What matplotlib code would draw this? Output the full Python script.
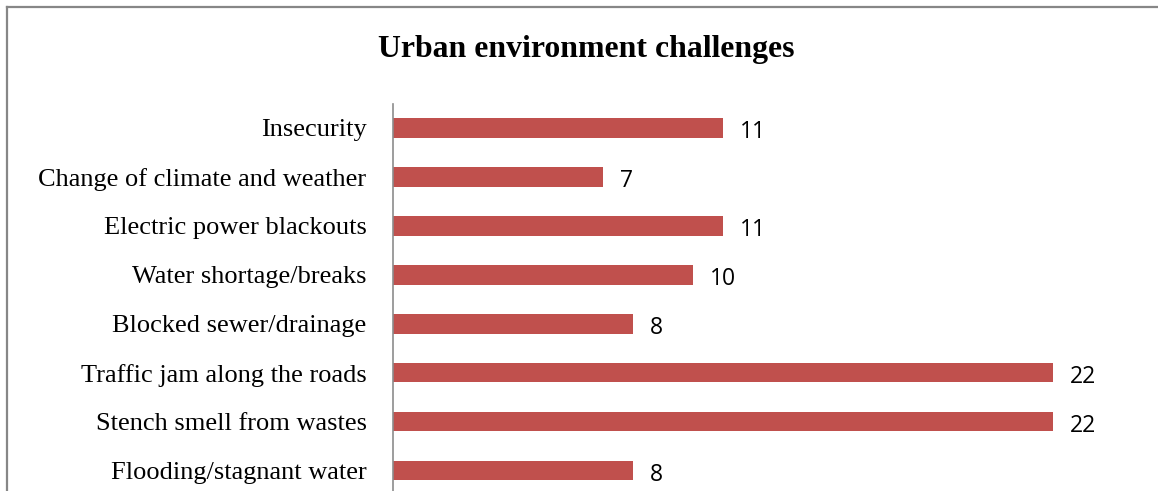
import matplotlib
matplotlib.use("Agg")
import matplotlib.pyplot as plt
from matplotlib.lines import Line2D

categories = [
    "Insecurity",
    "Change of climate and weather",
    "Electric power blackouts",
    "Water shortage/breaks",
    "Blocked sewer/drainage",
    "Traffic jam along the roads",
    "Stench smell from wastes",
    "Flooding/stagnant water",
]
values = [11, 7, 11, 10, 8, 22, 22, 8]

W, H = 1158, 491
fig = plt.figure(figsize=(W / 100, H / 100), dpi=100)

# outer chart frame: only the top and left edges fall inside the canvas
fx, fy = 7.5 / W, 1 - 7 / H
fig.add_artist(Line2D([fx, 1.05], [fy, fy], transform=fig.transFigure,
                      color="#878787", linewidth=1.6))
fig.add_artist(Line2D([fx, fx], [-0.05, fy], transform=fig.transFigure,
                      color="#878787", linewidth=1.6))

ax = fig.add_axes([393 / W, 0, (1130 - 393) / W, 1 - 103.5 / H])
pos = list(range(len(categories)))
ax.barh(pos, values, height=0.39, color="#C0504D", edgecolor="none")
ax.set_xlim(0, (1130 - 393) / 30)
ax.set_ylim(7.41, -0.5)

ax.set_yticks(pos)
ax.set_yticklabels(categories, fontfamily="Liberation Serif", fontsize=19)
ax.tick_params(axis="y", length=0, pad=19)
ax.set_xticks([])
for s in ["top", "right", "bottom"]:
    ax.spines[s].set_visible(False)
ax.spines["left"].set_color("#8c8c8c")
ax.spines["left"].set_linewidth(1.2)

for p, v in zip(pos, values):
    ax.text(v + 0.57, p + 0.2, str(v), va="baseline", ha="left",
            fontfamily="Open Sans", fontsize=16.5)

fig.text(586 / W, 1 - 57 / H, "Urban environment challenges", ha="center",
         va="baseline", fontfamily="Liberation Serif", fontweight="bold",
         fontsize=22.9)

fig.savefig("out.png", dpi=100)
